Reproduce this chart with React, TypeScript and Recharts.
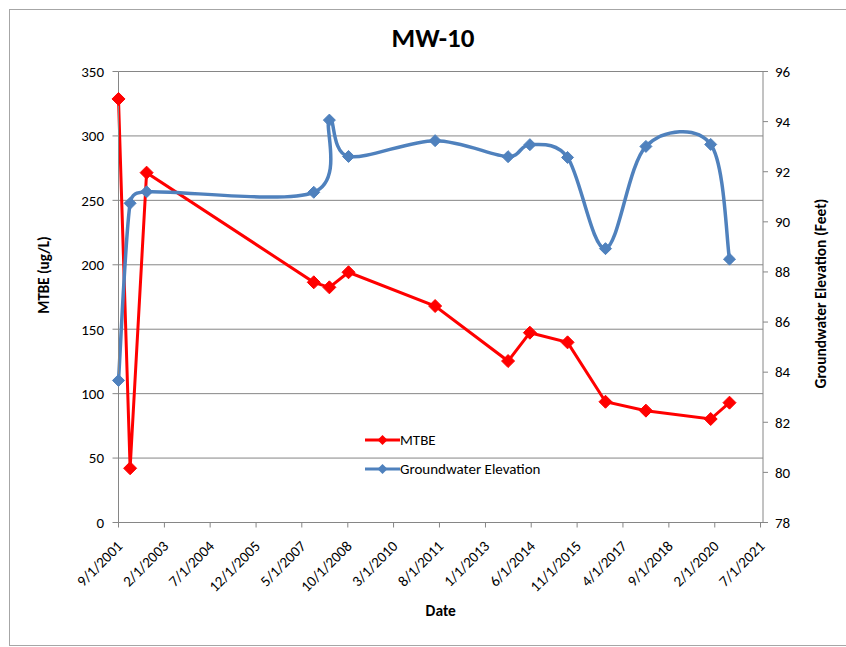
import React from 'react';
import { LineChart, Line, XAxis, YAxis, CartesianGrid, Legend, Label } from 'recharts';

const sampleDates = ['9/1/2001', '1/10/2002', '7/15/2002', '9/13/2007', '3/7/2008', '10/9/2008', '6/13/2011', '9/13/2013', '5/17/2014', '7/16/2015', '9/16/2016', '12/16/2017', '12/17/2019', '7/16/2020'];
const mtbeValues = [328.7, 42.1, 271.5, 186.4, 182.5, 194.2, 168, 125.3, 147.3, 139.8, 93.7, 86.8, 80.3, 93];
const gwValues = [83.67, 90.74, 91.2, 91.18, 94.06, 92.61, 93.24, 92.6, 93.08, 92.57, 88.93, 93.01, 93.09, 88.51];
const xTickDates = ['9/1/2001', '2/1/2003', '7/1/2004', '12/1/2005', '5/1/2007', '10/1/2008', '3/1/2010', '8/1/2011', '1/1/2013', '6/1/2014', '11/1/2015', '4/1/2017', '9/1/2018', '2/1/2020', '7/1/2021'];
const leftTicks = [0, 50, 100, 150, 200, 250, 300, 350];
const rightTicks = [78, 80, 82, 84, 86, 88, 90, 92, 94, 96];

const FONT = 'Carlito, Lato, "Open Sans", sans-serif';
const RED = '#FF0000';
const BLUE = '#4F81BD';
const GRID = '#868686';
const TICK_FS = 15;

const toTime = (s: string) => {
  const [m, d, y] = s.split('/').map(Number);
  return Date.UTC(y, m - 1, d);
};
const fmt = (t: number) => {
  const d = new Date(t);
  return `${d.getUTCMonth() + 1}/${d.getUTCDate()}/${d.getUTCFullYear()}`;
};

const data = sampleDates.map((s, i) => ({ t: toTime(s), mtbe: mtbeValues[i], gw: gwValues[i] }));
const xTicks = xTickDates.map(toTime);
const DAY = 86400000;
const xDomain = [xTicks[0], xTicks[xTicks.length - 1] + 28 * DAY];

// Excel-like smoothed line: Catmull-Rom Bezier with tangents clamped by neighbouring segment length
const excelSmooth = (ctx: any) => {
  let pts: number[][] = [];
  const tangent = (i: number) => {
    const prev = pts[i - 1] || pts[i];
    const next = pts[i + 1] || pts[i];
    return [(next[0] - prev[0]) / 6, (next[1] - prev[1]) / 6];
  };
  const clamp = (t: number[], maxLen: number) => {
    const len = Math.hypot(t[0], t[1]);
    if (len <= maxLen || len === 0) return t;
    const s = maxLen / len;
    return [t[0] * s, t[1] * s];
  };
  return {
    areaStart() {},
    areaEnd() {},
    lineStart() {
      pts = [];
    },
    point(x: number, y: number) {
      pts.push([+x, +y]);
    },
    lineEnd() {
      if (!pts.length) return;
      ctx.moveTo(pts[0][0], pts[0][1]);
      for (let i = 0; i < pts.length - 1; i++) {
        const p1 = pts[i];
        const p2 = pts[i + 1];
        const seg = Math.hypot(p2[0] - p1[0], p2[1] - p1[1]);
        const t1 = clamp(tangent(i), seg * 0.5);
        const t2 = clamp(tangent(i + 1), seg * 0.5);
        ctx.bezierCurveTo(p1[0] + t1[0], p1[1] + t1[1], p2[0] - t2[0], p2[1] - t2[1], p2[0], p2[1]);
      }
    },
  };
};

const diamond = (color: string, r: number) => (props: any) => {
  const { cx, cy, index } = props;
  if (cx == null || cy == null) return <g key={`e-${index}`} />;
  return (
    <path
      key={`d-${color}-${index}`}
      d={`M${cx},${cy - r}L${cx + r},${cy}L${cx},${cy + r}L${cx - r},${cy}Z`}
      fill={color}
      stroke={color}
      strokeWidth={1}
    />
  );
};

const DateTick = (props: any) => {
  const { x, y, payload } = props;
  return (
    <g transform={`translate(${x},${y})`}>
      <text
        x={0}
        y={0}
        transform="translate(5, 19.5) rotate(-45)"
        textAnchor="end"
        fontSize={TICK_FS}
        fontFamily={FONT}
        fill="#000"
      >
        {fmt(payload.value)}
      </text>
    </g>
  );
};

const LegendContent = () => {
  const items = [
    { name: 'MTBE', color: RED },
    { name: 'Groundwater Elevation', color: BLUE },
  ];
  return (
    <div style={{ fontFamily: FONT, fontSize: 15, color: '#000' }}>
      {items.map((it) => (
        <div key={it.name} style={{ display: 'flex', alignItems: 'center', height: 29, whiteSpace: 'nowrap' }}>
          <svg width={35} height={14} style={{ display: 'block' }}>
            <line x1={0} y1={7} x2={35} y2={7} stroke={it.color} strokeWidth={3} />
            <path d="M17.5,2L22.5,7L17.5,12L12.5,7Z" fill={it.color} />
          </svg>
          <span>{it.name}</span>
        </div>
      ))}
    </div>
  );
};

export default function App() {
  return (
    <div style={{ position: 'absolute', left: 0, top: 0, width: 846, height: 647, background: '#fff', overflow: 'hidden' }}>
      <svg width={846} height={647} style={{ position: 'absolute', left: 0, top: 0 }}>
        <rect x={9.5} y={9.5} width={860} height={636} fill="#fff" stroke="#a6a6a6" strokeWidth={1} />
        <text x={433} y={46.5} textAnchor="middle" fontFamily={FONT} fontWeight="bold" fontSize={27} fill="#000">
          MW-10
        </text>
      </svg>
      <div style={{ position: 'absolute', left: 0, top: 0 }}>
        <LineChart width={846} height={647} data={data} margin={{ top: 71.5, right: 13, bottom: 24.5, left: 0 }}>
          <CartesianGrid yAxisId="left" vertical={false} stroke={GRID} strokeWidth={1} />
          <XAxis
            dataKey="t"
            type="number"
            domain={xDomain}
            ticks={xTicks}
            interval={0}
            height={100}
            tickSize={5}
            tickMargin={0}
            axisLine={{ stroke: GRID }}
            tickLine={{ stroke: GRID }}
            tick={<DateTick />}
          >
            <Label
              content={(p: any) => {
                const vb = p.viewBox || {};
                return (
                  <text
                    x={vb.x + vb.width / 2}
                    y={616}
                    textAnchor="middle"
                    fontFamily={FONT}
                    fontWeight="bold"
                    fontSize={15.5}
                    fill="#000"
                  >
                    Date
                  </text>
                );
              }}
            />
          </XAxis>
          <YAxis
            yAxisId="left"
            orientation="left"
            width={118.5}
            domain={[0, 350]}
            ticks={leftTicks}
            interval={0}
            tickSize={6}
            tickMargin={8.5}
            axisLine={{ stroke: GRID }}
            tickLine={{ stroke: GRID }}
            tick={{ fill: '#000', fontSize: TICK_FS, fontFamily: FONT }}
          >
            <Label
              content={() => (
                <text
                  x={44}
                  y={275}
                  transform="rotate(-90, 44, 275)"
                  textAnchor="middle"
                  dominantBaseline="central"
                  fontFamily={FONT}
                  fontWeight="bold"
                  fontSize={15}
                  fill="#000"
                >
                  MTBE (ug/L)
                </text>
              )}
            />
          </YAxis>
          <YAxis
            yAxisId="right"
            orientation="right"
            width={70}
            domain={[78, 96]}
            ticks={rightTicks}
            interval={0}
            tickSize={5}
            tickMargin={7}
            axisLine={{ stroke: GRID }}
            tickLine={{ stroke: GRID }}
            tick={{ fill: '#000', fontSize: TICK_FS, fontFamily: FONT }}
          >
            <Label
              content={() => (
                <text
                  x={820}
                  y={293.5}
                  transform="rotate(-90, 820, 293.5)"
                  textAnchor="middle"
                  dominantBaseline="central"
                  fontFamily={FONT}
                  fontWeight="bold"
                  fontSize={15.5}
                  fill="#000"
                >
                  Groundwater Elevation (Feet)
                </text>
              )}
            />
          </YAxis>
          <Legend
            layout="vertical"
            align="center"
            verticalAlign="middle"
            content={<LegendContent />}
            wrapperStyle={{ left: 365, top: 425.5, width: 240 }}
          />
          <Line
            yAxisId="left"
            dataKey="mtbe"
            type="linear"
            stroke={RED}
            strokeWidth={3}
            dot={diamond(RED, 6.5)}
            activeDot={false}
            isAnimationActive={false}
          />
          <Line
            yAxisId="right"
            dataKey="gw"
            type={excelSmooth as any}
            stroke={BLUE}
            strokeWidth={3.5}
            dot={diamond(BLUE, 6)}
            activeDot={false}
            isAnimationActive={false}
          />
        </LineChart>
      </div>
    </div>
  );
}
